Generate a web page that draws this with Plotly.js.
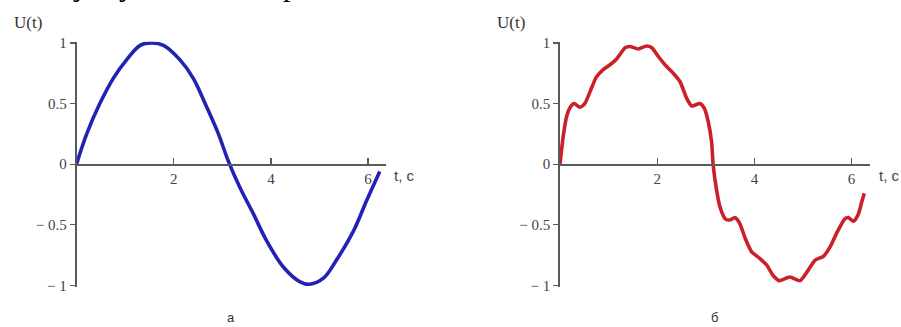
<!DOCTYPE html>
<html>
<head>
<meta charset="utf-8">
<script src="https://cdn.plot.ly/plotly-3.0.1.min.js"></script>
<style>
  html, body { margin: 0; padding: 0; background: #fff; }
  #graph { width: 901px; height: 327px; }
</style>
</head>
<body>
<div id="graph"></div>
<script>
// values: (a) plain sine, (б) sine with ripple
const tA = [0, 0.21, 0.48, 0.76, 1.03, 1.31, 1.55, 1.79, 2.13, 2.40, 2.68, 2.92, 3.12, 3.36, 3.64, 3.91, 4.26, 4.60, 4.80, 5.08, 5.35, 5.70, 5.97, 6.24];
const uA = [0, 0.25, 0.50, 0.71, 0.86, 0.98, 1.0, 0.98, 0.86, 0.71, 0.47, 0.25, 0.03, -0.19, -0.41, -0.63, -0.85, -0.97, -0.99, -0.94, -0.79, -0.55, -0.30, -0.06];

const tB = [0, 0.07, 0.14, 0.21, 0.29, 0.41, 0.51, 0.65, 0.75, 0.89, 1.03, 1.17, 1.34, 1.44, 1.61, 1.78, 1.89, 2.02, 2.16, 2.33, 2.47, 2.61, 2.71, 2.88, 2.97, 3.05, 3.12, 3.15,
            3.22, 3.29, 3.40, 3.50, 3.60, 3.70, 3.81, 3.94, 4.12, 4.25, 4.39, 4.51, 4.73, 4.94, 5.08, 5.25, 5.42, 5.56, 5.69, 5.86, 5.93, 6.04, 6.14, 6.21, 6.26];
const uB = [0, 0.24, 0.40, 0.47, 0.50, 0.47, 0.50, 0.63, 0.72, 0.78, 0.82, 0.87, 0.96, 0.97, 0.95, 0.975, 0.96, 0.89, 0.82, 0.75, 0.68, 0.54, 0.48, 0.50, 0.46, 0.35, 0.18, 0,
            -0.21, -0.35, -0.45, -0.46, -0.44, -0.49, -0.61, -0.72, -0.78, -0.83, -0.92, -0.96, -0.93, -0.96, -0.89, -0.79, -0.76, -0.68, -0.57, -0.45, -0.44, -0.47, -0.41, -0.31, -0.24];

const xTicks = [2, 4, 6];
const yTicks = [-1, -0.5, 0, 0.5, 1];
const yTickText = ['\u2212 1', '\u2212 0.5', '0', '0.5', '1'];

const W = 901, H = 327;
const px = v => v / W;
const py = v => (H - v) / H;

const serif = 'Liberation Serif, Times New Roman, serif';
const sans = 'Liberation Sans, Arial, sans-serif';
const axisColor = '#5a5a5a';

function xAxis(x0) {
    return {
        domain: [px(x0), px(x0 + 6.37 * 48.6)],
        range: [0, 6.37],
        anchor: 'free',
        position: py(164.2),
        showline: true,
        linecolor: axisColor,
        linewidth: 1.6,
        ticks: 'inside',
        ticklen: 6,
        tickwidth: 1.3,
        tickcolor: axisColor,
        tickvals: xTicks,
        showgrid: false,
        zeroline: false,
        tickfont: { family: serif, size: 15, color: '#444' }
    };
}

function yAxis(anchor) {
    return {
        domain: [py(286.7), py(41.7)],
        range: [-1.01, 1.01],
        anchor: anchor,
        showline: true,
        linecolor: axisColor,
        linewidth: 1.8,
        ticks: 'outside',
        ticklen: 5,
        tickwidth: 1.3,
        tickcolor: axisColor,
        tickvals: yTicks,
        ticktext: yTickText,
        ticklabelstandoff: 0,
        showgrid: false,
        zeroline: false,
        tickfont: { family: serif, size: 15, color: '#444' }
    };
}

const traces = [
    {
        x: tA, y: uA, type: 'scatter', mode: 'lines',
        line: { color: '#2222b4', width: 3.6, shape: 'spline', smoothing: 1 },
        xaxis: 'x', yaxis: 'y', hoverinfo: 'skip'
    },
    {
        x: tB, y: uB, type: 'scatter', mode: 'lines',
        line: { color: '#cc2029', width: 3.6, shape: 'spline', smoothing: 0.6 },
        xaxis: 'x2', yaxis: 'y2', hoverinfo: 'skip'
    }
];

function label(text, x, y, size, family, color, xanchor) {
    return {
        text: text, x: px(x), y: py(y), xref: 'paper', yref: 'paper',
        xanchor: xanchor || 'center', yanchor: 'middle', showarrow: false,
        font: { family: family || serif, size: size, color: color || '#333' }
    };
}

const layout = {
    width: W,
    height: H,
    margin: { l: 0, r: 0, t: 0, b: 0, pad: 0 },
    paper_bgcolor: 'white',
    plot_bgcolor: 'white',
    showlegend: false,
    xaxis: xAxis(76.5),
    yaxis: yAxis('x'),
    xaxis2: xAxis(560),
    yaxis2: yAxis('x2'),
    annotations: [
        label('U(t)', 28, 23, 17),
        label('t, c', 392, 175, 15, sans, '#444', 'left'),
        label('а', 231, 317, 13, sans, '#333'),
        label('U(t)', 511, 23, 17),
        label('t, c', 877, 175, 15, sans, '#444', 'left'),
        label('б', 714, 317, 13, sans, '#333'),
        // bottom of the line of text above, cut by the picture edge
        label('у', 80, -14, 30, serif, '#000'),
        label('у', 126, -14, 30, serif, '#000'),
        label('р', 290, -14, 30, serif, '#000')
    ]
};

Plotly.newPlot('graph', traces, layout, { displayModeBar: false, staticPlot: true });
</script>
</body>
</html>
